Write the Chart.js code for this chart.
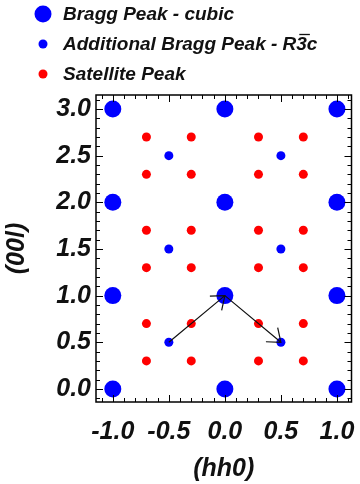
<!DOCTYPE html>
<html>
<head>
<meta charset="utf-8">
<script src="https://cdn.jsdelivr.net/npm/chart.js@4/dist/chart.umd.min.js"></script>
<style>
  html, body { margin: 0; padding: 0; background: #fff; }
  #wrap { width: 360px; height: 484px; }
</style>
</head>
<body>
<div id="wrap"><canvas id="peaks"></canvas></div>
<script>
// Peak positions, (hh0) along x and (00l) along y
const cubicH = [-1, 0, 1, -1, 0, 1, -1, 0, 1, -1, 0, 1];
const cubicL = [0, 0, 0, 1, 1, 1, 2, 2, 2, 3, 3, 3];

const r3cH = [-0.5, 0.5, -0.5, 0.5, -0.5, 0.5];
const r3cL = [0.5, 0.5, 1.5, 1.5, 2.5, 2.5];

const satH = [-0.7, -0.3, 0.3, 0.7, -0.7, -0.3, 0.3, 0.7,
              -0.7, -0.3, 0.3, 0.7, -0.7, -0.3, 0.3, 0.7,
              -0.7, -0.3, 0.3, 0.7, -0.7, -0.3, 0.3, 0.7];
const satL = [0.3, 0.3, 0.3, 0.3, 0.7, 0.7, 0.7, 0.7,
              1.3, 1.3, 1.3, 1.3, 1.7, 1.7, 1.7, 1.7,
              2.3, 2.3, 2.3, 2.3, 2.7, 2.7, 2.7, 2.7];

// Arrows: from (fromH, fromL) to (toH, toL)
const arrowFromH = [-0.5, 0];
const arrowFromL = [0.5, 1];
const arrowToH = [0, 0.5];
const arrowToL = [1, 0.5];

// "R3c" gets a bar over the 3 (R-3c space group), drawn by the key plugin
const seriesLabels = ['Bragg Peak - cubic', 'Additional Bragg Peak - R3c', 'Satellite Peak'];

// Axis ticks
const xTicks = [-1.0, -0.5, 0.0, 0.5, 1.0];
const yTicks = [0.0, 0.5, 1.0, 1.5, 2.0, 2.5, 3.0];
const xRange = [-1.15, 1.13];
const yRange = [-0.14, 3.15];

const toPoints = (hs, ls) => hs.map((h, i) => ({ x: h, y: ls[i] }));

const minorTicks = (lo, hi) => {
    const out = [];
    for (let k = Math.ceil(lo * 10); k <= Math.floor(hi * 10); k++) out.push(k / 10);
    return out;
};

const labelFont = { family: 'Liberation Sans', size: 25, weight: 'bold', style: 'italic' };

// Box frame with inward major/minor ticks on all four sides
const framePlugin = {
    id: 'frame',
    afterDraw(chart) {
        const { ctx, chartArea: a, scales } = chart;
        ctx.save();
        ctx.strokeStyle = '#000';
        ctx.lineWidth = 1;
        const tick = (vals, len, horiz) => {
            vals.forEach(v => {
                if (horiz) {
                    const px = Math.round(scales.x.getPixelForValue(v)) + 0.5;
                    ctx.beginPath();
                    ctx.moveTo(px, a.bottom); ctx.lineTo(px, a.bottom - len);
                    ctx.moveTo(px, a.top); ctx.lineTo(px, a.top + len);
                    ctx.stroke();
                } else {
                    const py = Math.round(scales.y.getPixelForValue(v)) + 0.5;
                    ctx.beginPath();
                    ctx.moveTo(a.left, py); ctx.lineTo(a.left + len, py);
                    ctx.moveTo(a.right, py); ctx.lineTo(a.right - len, py);
                    ctx.stroke();
                }
            });
        };
        tick(minorTicks(xRange[0], xRange[1]), 4, true);
        tick(xTicks, 7, true);
        tick(minorTicks(yRange[0], yRange[1]), 4, false);
        tick(yTicks, 7, false);
        ctx.lineWidth = 1.5;
        ctx.strokeRect(a.left, a.top, a.right - a.left, a.bottom - a.top);
        ctx.restore();
    }
};

// Arrows between the peaks
const arrowPlugin = {
    id: 'arrows',
    afterDatasetsDraw(chart) {
        const { ctx, scales } = chart;
        ctx.save();
        ctx.strokeStyle = '#111';
        ctx.lineWidth = 1.2;
        arrowFromH.forEach((h, i) => {
            const x0 = scales.x.getPixelForValue(h);
            const y0 = scales.y.getPixelForValue(arrowFromL[i]);
            const x1 = scales.x.getPixelForValue(arrowToH[i]);
            const y1 = scales.y.getPixelForValue(arrowToL[i]);
            const back = Math.atan2(y0 - y1, x0 - x1);
            const len = 15, spread = 0.66;
            ctx.beginPath();
            ctx.moveTo(x0, y0);
            ctx.lineTo(x1, y1);
            ctx.moveTo(x1 + len * Math.cos(back + spread), y1 + len * Math.sin(back + spread));
            ctx.lineTo(x1, y1);
            ctx.lineTo(x1 + len * Math.cos(back - spread), y1 + len * Math.sin(back - spread));
            ctx.stroke();
        });
        ctx.restore();
    }
};

// Legend block above the plot, one row per series
const keyPlugin = {
    id: 'key',
    afterDraw(chart) {
        const { ctx } = chart;
        const rowY = [14, 44, 74];
        const textX = 63;
        ctx.save();
        ctx.font = 'italic bold 19px "Liberation Sans"';
        ctx.textBaseline = 'middle';
        chart.data.datasets.forEach((ds, i) => {
            ctx.fillStyle = ds.backgroundColor;
            ctx.beginPath();
            ctx.arc(43, rowY[i], ds.pointRadius, 0, Math.PI * 2);
            ctx.fill();
            ctx.fillStyle = '#111';
            ctx.fillText(ds.label, textX, rowY[i] + 1);
            // bar over the 3 in R3c
            const at = ds.label.indexOf('R3c');
            if (at >= 0) {
                const x0 = textX + ctx.measureText(ds.label.slice(0, at + 1)).width + 2;
                const w = ctx.measureText('3').width;
                ctx.strokeStyle = '#111';
                ctx.lineWidth = 1.3;
                ctx.beginPath();
                ctx.moveTo(x0 + 1, rowY[i] - 9.5);
                ctx.lineTo(x0 + w + 1, rowY[i] - 9.5);
                ctx.stroke();
            }
        });
        ctx.restore();
    }
};

new Chart(document.getElementById('peaks'), {
    type: 'scatter',
    data: {
        datasets: [
            { label: seriesLabels[0], data: toPoints(cubicH, cubicL), backgroundColor: '#0000ff', borderWidth: 0, pointRadius: 8.5 },
            { label: seriesLabels[1], data: toPoints(r3cH, r3cL), backgroundColor: '#0000ff', borderWidth: 0, pointRadius: 4.5 },
            { label: seriesLabels[2], data: toPoints(satH, satL), backgroundColor: '#ff0000', borderWidth: 0, pointRadius: 4.5 }
        ]
    },
    options: {
        responsive: true,
        maintainAspectRatio: false,
        animation: false,
        layout: { padding: { top: 95, right: 5, left: 0, bottom: 0 } },
        plugins: { legend: { display: false }, tooltip: { enabled: false } },
        scales: {
            x: {
                type: 'linear',
                min: xRange[0],
                max: xRange[1],
                grid: { display: false, drawTicks: false },
                border: { display: false },
                afterBuildTicks: s => { s.ticks = xTicks.map(v => ({ value: v })); },
                afterFit: s => { s.height = 82; s.paddingLeft = 0; s.paddingRight = 0; },
                ticks: { color: '#111', font: labelFont, padding: 15, maxRotation: 0, callback: v => v.toFixed(1) },
                title: { display: true, text: '(hh0)', color: '#111', font: labelFont, padding: { top: 6, bottom: 0 } }
            },
            y: {
                type: 'linear',
                min: yRange[0],
                max: yRange[1],
                grid: { display: false, drawTicks: false },
                border: { display: false },
                afterBuildTicks: s => { s.ticks = yTicks.map(v => ({ value: v })); },
                afterFit: s => { s.width = 96; s.paddingTop = 0; s.paddingBottom = 0; },
                ticks: { color: '#111', font: labelFont, padding: 5, callback: v => v.toFixed(1) },
                title: { display: true, text: '(00l)', color: '#111', font: labelFont, padding: { top: 2, bottom: 0 } }
            }
        }
    },
    plugins: [arrowPlugin, framePlugin, keyPlugin]
});
</script>
</body>
</html>
